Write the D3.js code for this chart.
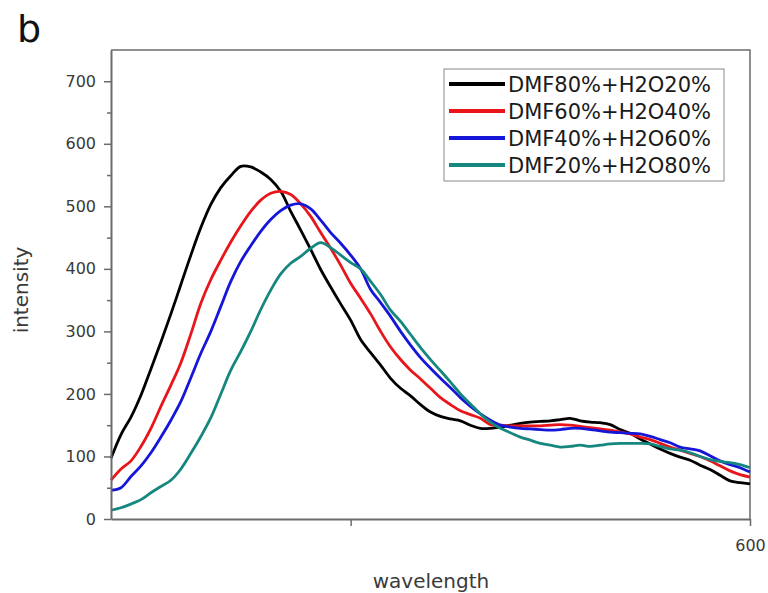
<!DOCTYPE html>
<html>
<head>
<meta charset="utf-8">
<script src="https://cdn.jsdelivr.net/npm/d3@7"></script>
<style>
  html, body { margin: 0; padding: 0; background: #fff; }
  svg { display: block; font-family: "DejaVu Sans", sans-serif; }
</style>
</head>
<body>
<svg id="chart" width="768" height="593"></svg>
<script>
// ---- data ----
const wavelength = d3.range(0, 65).map(i => 440 + i * 2.5);
const seriesNames = ["DMF80%+H2O20%", "DMF60%+H2O40%", "DMF40%+H2O60%", "DMF20%+H2O80%"];
const seriesColors = ["#000000", "#e8161b", "#1616d8", "#16877e"];
const dmf80 = [97,135,163,198,240,283,328,375,422,466,503,530,549,564,563,555,543,524,492,462,431,399,371,344,318,287,266,246,225,209,197,183,171,164,160,157,150,145,145,147,150,153,155,156,157,159,161,157,155,154,151,143,137,128,120,112,105,99,94,86,79,70,61,58,56];
const dmf60 = [62,80,93,116,145,180,214,250,296,345,383,414,443,469,492,510,521,524,519,504,484,458,433,406,377,353,328,300,275,255,238,224,209,194,183,173,167,161,151,150,149,149,149,149,150,151,150,148,146,144,142,139,136,131,127,121,115,110,105,100,93,85,77,71,67];
const dmf40 = [46,50,68,85,106,131,158,188,226,265,300,340,380,412,437,460,479,493,502,504,496,478,458,441,422,400,367,346,324,300,278,258,241,225,210,194,180,168,158,150,147,145,144,143,142,143,145,145,143,141,139,138,137,136,132,127,122,115,112,109,101,93,87,82,75];
const dmf20 = [14,18,24,31,42,52,62,80,105,132,162,200,238,268,300,335,366,392,409,420,433,442,434,422,410,400,380,359,334,316,295,274,255,237,219,200,184,168,155,145,138,131,126,121,118,115,116,118,116,118,120,121,121,121,120,116,112,110,106,100,95,92,90,87,82];
const seriesValues = [dmf80, dmf60, dmf40, dmf20];
const yTickValues = [0, 100, 200, 300, 400, 500, 600, 700];
const yMinorTicks = [50, 150, 250, 350, 450, 550, 650];
const xTickValues = [500, 600];
const xTickLabels = ["", "600"];

// ---- layout ----
const W = 768, H = 593;
const margin = { left: 111, right: 18, top: 50, bottom: 74 };
const svg = d3.select("#chart");
const x = d3.scaleLinear().domain([440, 600]).range([margin.left, W - margin.right]);
const y = d3.scaleLinear().domain([0, 750]).range([H - margin.bottom, margin.top]);
const axisColor = "#6b6b6b";

// frame (top & right)
svg.append("path")
  .attr("d", `M${x(440)},${y(750)}H${x(600)}V${y(0)}`)
  .attr("fill", "none").attr("stroke", axisColor).attr("stroke-width", 1.5);

// curves
const line = d3.line()
  .x((d, i) => x(wavelength[i]))
  .y(d => y(d))
  .curve(d3.curveCatmullRom.alpha(0.5));
const plot = svg.append("g");
seriesValues.forEach((vals, k) => {
  plot.append("path")
    .datum(vals)
    .attr("d", line)
    .attr("fill", "none")
    .attr("stroke", seriesColors[k])
    .attr("stroke-width", 2.8)
    .attr("stroke-linejoin", "round");
});

// y axis
const yAxis = svg.append("g")
  .attr("transform", `translate(${margin.left},0)`)
  .call(d3.axisLeft(y).tickValues(yTickValues).tickSize(7).tickPadding(8).tickSizeOuter(0));
const yMinor = svg.append("g")
  .attr("transform", `translate(${margin.left},0)`)
  .call(d3.axisLeft(y).tickValues(yMinorTicks).tickSize(4).tickFormat("").tickSizeOuter(0));
yMinor.select(".domain").remove();

// x axis
const xAxis = svg.append("g")
  .attr("transform", `translate(0,${y(0)})`)
  .call(d3.axisBottom(x).tickValues(xTickValues).tickSize(7).tickPadding(14).tickSizeOuter(0)
    .tickFormat((d, i) => xTickLabels[i]));

[yAxis, yMinor, xAxis].forEach(g => {
  g.selectAll(".domain").attr("stroke", axisColor).attr("stroke-width", 2);
  g.selectAll(".tick line").attr("stroke", axisColor).attr("stroke-width", 1.5);
  g.selectAll(".tick text").attr("fill", "#3a3a3a").style("font-size", "16px")
    .style("font-family", "'DejaVu Sans', sans-serif");
});

// axis titles
svg.append("text")
  .attr("x", 431).attr("y", 588)
  .attr("text-anchor", "middle")
  .attr("fill", "#3a3a3a").style("font-size", "20px")
  .text("wavelength");
svg.append("text")
  .attr("transform", "translate(28,290) rotate(-90)")
  .attr("text-anchor", "middle")
  .attr("fill", "#3a3a3a").style("font-size", "20px")
  .text("intensity");

// panel label
svg.append("text")
  .attr("x", 17).attr("y", 42)
  .attr("fill", "#111").style("font-size", "38px")
  .text("b");

// legend
const lg = svg.append("g");
lg.append("rect")
  .attr("x", 444).attr("y", 69).attr("width", 280).attr("height", 112)
  .attr("fill", "#fff").attr("stroke", "#8a8a8a").attr("stroke-width", 1);
seriesNames.forEach((name, k) => {
  const cy = 84 + k * 27;
  lg.append("line")
    .attr("x1", 449).attr("x2", 505).attr("y1", cy).attr("y2", cy)
    .attr("stroke", seriesColors[k]).attr("stroke-width", 4);
  lg.append("text")
    .attr("x", 508).attr("y", cy).attr("dy", "0.36em")
    .attr("fill", "#1a1a1a").style("font-size", "21px")
    .text(name);
});
</script>
</body>
</html>
